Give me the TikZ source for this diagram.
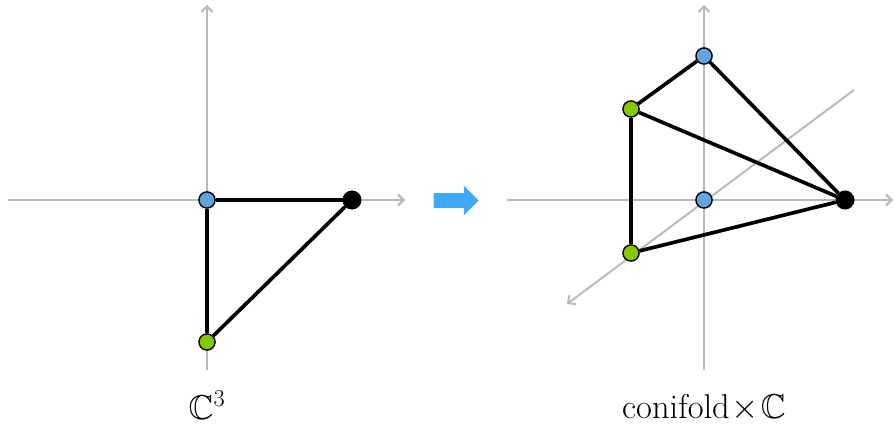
\documentclass[tikz,border=0pt]{standalone}
\usepackage{amsmath}
\usepackage{amssymb}
\usetikzlibrary{shapes,arrows,positioning,calc,arrows.meta}

\definecolor{ptblue}{RGB}{98,163,224}
\definecolor{ptgreen}{RGB}{132,200,0}
\definecolor{mapblue}{RGB}{63,169,245}
\definecolor{axisgray}{RGB}{185,185,185}

\begin{document}
\begin{tikzpicture}[x=0.025cm,y=0.025cm,
      axis/.style={draw=axisgray,line width=1.4pt,-{Straight Barb[length=4pt,width=8pt]}},
      pt/.style={circle,draw=black,line width=1pt,minimum size=11.5pt,inner sep=0pt},
      bpt/.style={pt,fill=ptblue},
      gpt/.style={pt,fill=ptgreen},
      kpt/.style={pt,fill=black,minimum size=12.5pt},
      edge/.style={draw=black,line width=2.6pt},
      lbl/.style={font=\fontsize{24.5}{28}\selectfont}
    ]
    \useasboundingbox (0,0) rectangle (895,427);

    % left: C^3
    \coordinate (lxa) at (8,227);
    \coordinate (lxb) at (405,227);
    \coordinate (lya) at (207,57);
    \coordinate (lyb) at (207,422);
    \draw[axis] (lxa) -- (lxb);
    \draw[axis] (lya) -- (lyb);

    \node[bpt] (o1) at (207,227) {};
    \node[kpt] (b1) at (352,227) {};
    \node[gpt] (g1) at (207,85) {};
    \draw[edge] (o1) -- (b1);
    \draw[edge] (b1) -- (g1);
    \draw[edge] (g1) -- (o1);

    \node[lbl] (c3) at (207,22) {$\mathbb{C}^3$};

    % map
    \node[single arrow,fill=mapblue,inner xsep=0pt,inner ysep=5pt,minimum height=31.9pt,
      single arrow head extend=5.3pt] (map) at (452.5,226.5) {};

    % right: conifold x C
    \coordinate (rxa) at (507,227);
    \coordinate (rxb) at (893,227);
    \coordinate (rya) at (704,57);
    \coordinate (ryb) at (704,422);
    \coordinate (rza) at (854,337);
    \coordinate (rzb) at (567,123);
    \draw[axis] (rxa) -- (rxb);
    \draw[axis] (rya) -- (ryb);
    \draw[axis] (rza) -- (rzb);

    \node[bpt] (o2) at (704,227) {};
    \node[bpt] (t2) at (704,371) {};
    \node[gpt] (gu) at (631,318) {};
    \node[gpt] (gl) at (631,174) {};
    \node[kpt] (b2) at (845,227) {};
    \draw[edge] (t2) -- (gu);
    \draw[edge] (t2) -- (b2);
    \draw[edge] (gu) -- (b2);
    \draw[edge] (gu) -- (gl);
    \draw[edge] (gl) -- (b2);

    \node[lbl] (cc) at (704,19) {conifold$\mkern1mu\times\mkern1mu\mathbb{C}$};

\end{tikzpicture}
\end{document}
